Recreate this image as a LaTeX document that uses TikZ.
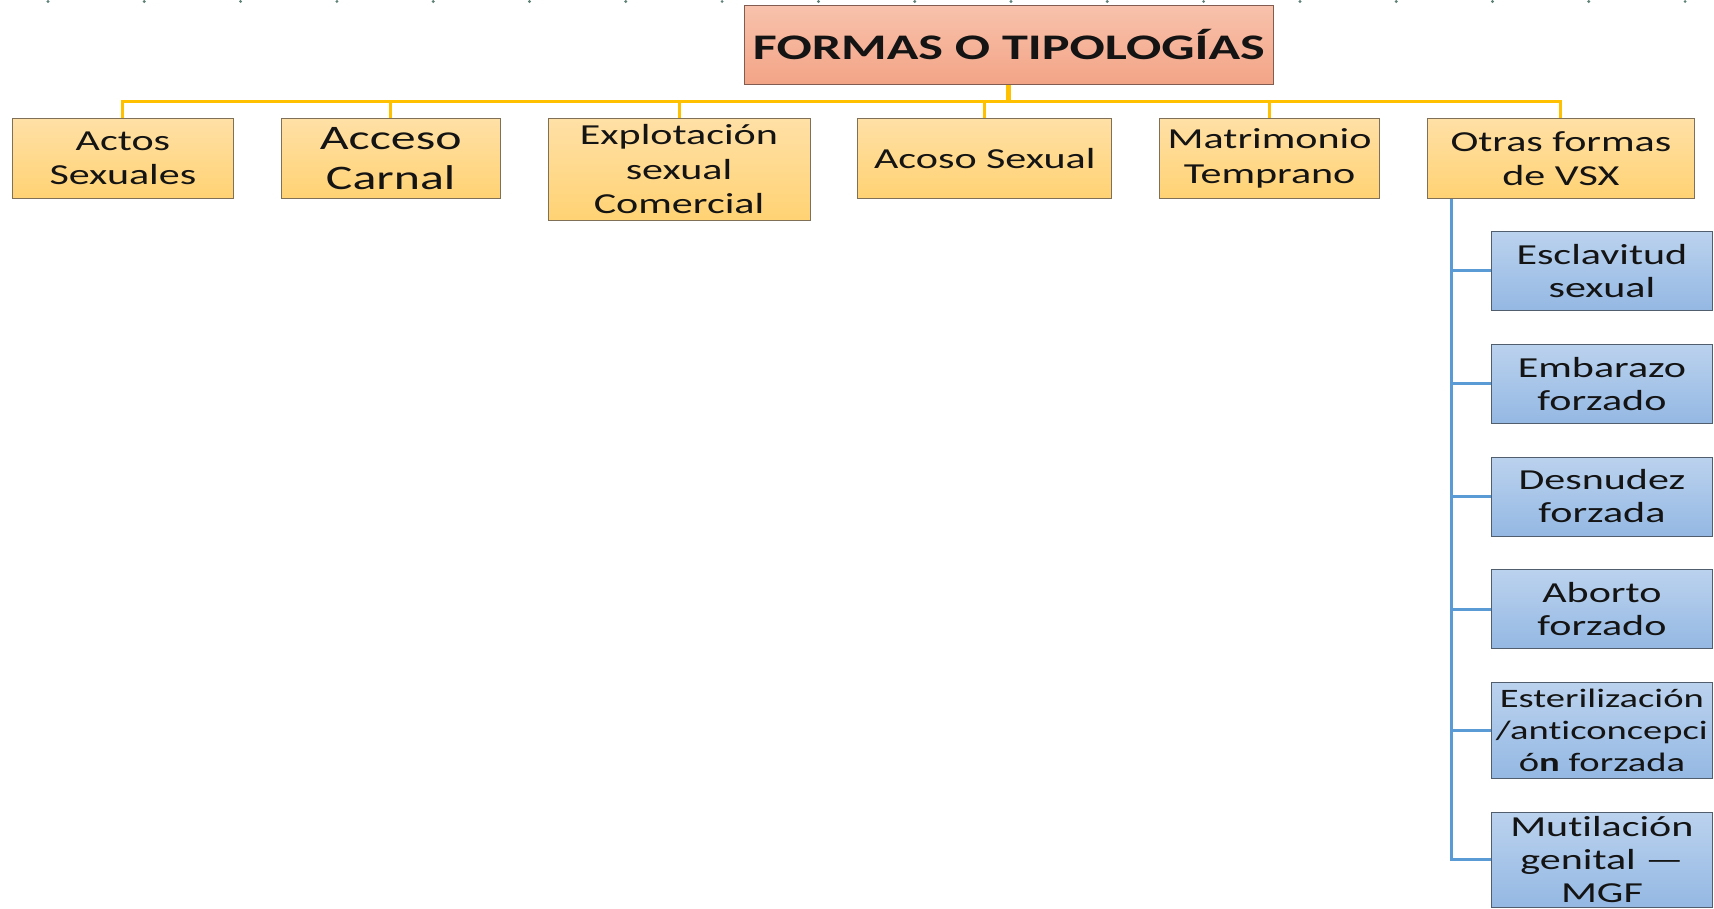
\documentclass[tikz,border=0pt]{standalone}
\usepackage{fontspec}
\setmainfont{Carlito}[FakeStretch=1.45, Ligatures=NoCommon]
\usetikzlibrary{positioning}
\definecolor{titletop}{RGB}{248,194,172}
\definecolor{titlebot}{RGB}{243,164,134}
\definecolor{titleedge}{RGB}{130,92,80}
\definecolor{cattop}{RGB}{255,224,166}
\definecolor{catbot}{RGB}{255,210,115}
\definecolor{catedge}{RGB}{128,112,88}
\definecolor{subtop}{RGB}{187,210,238}
\definecolor{subbot}{RGB}{148,184,227}
\definecolor{subedge}{RGB}{80,94,110}
\definecolor{busline}{RGB}{255,192,0}
\definecolor{spineline}{RGB}{91,155,213}
\definecolor{griddot}{RGB}{95,130,120}
\definecolor{ink}{RGB}{20,20,20}

\begin{document}
\begin{tikzpicture}[x=0.5pt, y=-0.5pt,
      head/.style={draw=titleedge, top color=titletop, bottom color=titlebot,
        minimum width=264.5pt, minimum height=39.5pt, inner sep=0pt,
        anchor=north west, text=ink, font=\bfseries\fontsize{18}{20}\selectfont},
      cat/.style={draw=catedge, top color=cattop, bottom color=catbot,
        minimum height=40pt, inner sep=0pt, align=center, text=ink,
        font=\fontsize{14.5}{17.2}\selectfont},
      sub/.style={draw=subedge, top color=subtop, bottom color=subbot,
        minimum width=110.5pt, minimum height=39.5pt, inner sep=0pt, align=center,
        text=ink, font=\fontsize{14.5}{16.5}\selectfont},
      stem/.style={busline, line width=2.5pt},
      tie/.style={busline, line width=1.5pt},
      branch/.style={spineline, line width=1.5pt}]
    \useasboundingbox (0,0) rectangle (1714,909);
    % dotted guide along the top edge
    \foreach \i in {0,...,17}
      \fill[griddot] (48+96.3*\i,1.5) circle (1.6);
    % root
    \node[head] (top) at (744,5) {FORMAS O TIPOLOGÍAS};
    % first level
    \node[cat, minimum width=110.5pt, anchor=north west] (actos) at (12,118)
      {Actos\\Sexuales};
    \node[cat, minimum width=109.5pt, right=23.5pt of actos.north east, anchor=north west,
      font=\fontsize{17.2}{20}\selectfont] (acceso) {Acceso\\Carnal};
    \node[cat, minimum width=131pt, minimum height=51pt,
      right=23.5pt of acceso.north east, anchor=north west] (explot)
      {Explotación\\sexual\\Comercial};
    \node[cat, minimum width=127pt, right=23.5pt of explot.north east, anchor=north west]
      (acoso) {Acoso Sexual};
    \node[cat, minimum width=110pt, right=23.5pt of acoso.north east, anchor=north west]
      (matrim) {Matrimonio\\Temprano};
    \node[cat, minimum width=133.5pt, right=23.5pt of matrim.north east, anchor=north west]
      (otras) {Otras formas\\de VSX};
    % second level
    \node[sub, anchor=north west] (escl) at (1491,231) {Esclavitud\\sexual};
    \node[sub, below=16.5pt of escl] (embar) {Embarazo\\forzado};
    \node[sub, below=16.5pt of embar] (desnu) {Desnudez\\forzada};
    \node[sub, below=16.5pt of desnu] (abort) {Aborto\\forzado};
    \node[sub, minimum height=48pt, below=16.5pt of abort,
      font=\fontsize{13.3}{16}\selectfont] (ester)
      {Esterilización\\/anticoncepci\\ó\textbf{n} forzada};
    \node[sub, minimum height=47.5pt, below=16.5pt of ester] (mutil)
      {Mutilación\\genital ---\\MGF};
    % connectors
    \coordinate (bus) at (0,102);
    \coordinate (spine) at (1451,0);
    \draw[stem] (top.south) -- (top.south |- bus);
    \foreach \c in {actos,acceso,explot,acoso,matrim,otras}
      \draw[tie] (top.south |- bus) -| (\c.north);
    \foreach \s in {escl,embar,desnu,abort,ester,mutil}
      \draw[branch] (otras.south -| spine) |- (\s.west);
  \end{tikzpicture}
\end{document}
